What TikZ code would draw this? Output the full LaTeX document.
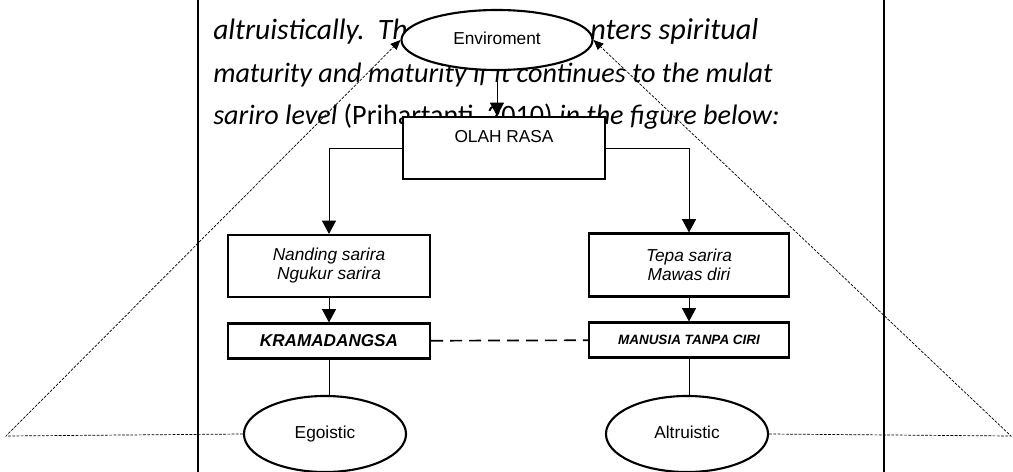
\documentclass[tikz,border=0pt]{standalone}
\usepackage{fontspec}
\setmainfont{Liberation Sans}
\newfontfamily\bodyfont{Carlito}
\newcommand\diagsize{\fontsize{12.3}{13.5}\selectfont}
\usetikzlibrary{arrows.meta, positioning, shapes.geometric}

\begin{document}
\begin{tikzpicture}[
    x=0.025cm, y=-0.025cm,
    font=\diagsize,
    box/.style={draw, line width=1.5pt, fill=white, inner sep=0pt, align=center},
    oval/.style={draw, ellipse, line width=1.5pt, fill=white, inner sep=0pt, text height=1.6ex, text depth=0.3ex},
    edge/.style={line width=0.7pt, -{Triangle[length=9.5pt, width=10pt]}},
    plain/.style={line width=0.7pt},
    dotline/.style={line width=0.5pt, dash pattern=on 2pt off 1pt, -{Triangle[length=7pt, width=6pt]}},
    gap/.style={line width=1.2pt, dash pattern=on 8.5pt off 5pt},
    pageline/.style={line width=1.4pt},
    bgtext/.style={font=\bodyfont\itshape\fontsize{20}{24}\selectfont, anchor=base west, inner sep=0pt},
]
\useasboundingbox (0,0) rectangle (1013,472);

% Page text behind the figure
\node[bgtext, font=\bodyfont\itshape\fontsize{21}{24}\selectfont] (t1a) at (213,40) {altruistically.\hspace{3pt} Th};
\node[bgtext, font=\bodyfont\itshape\fontsize{21.5}{24}\selectfont] (t1b) at (590,40) {nters spiritual};
\node[bgtext] (t2) at (213,83) {maturity and maturity if it continues to the mulat};
\node[bgtext] (t3) at (213,125) {sariro level \upshape(Prihartanti, 2010) \itshape in the figure below:};

% Page frame
\draw[pageline] (198,0) -- (198,472);
\draw[pageline] (884,0) -- (884,472);

% Top
\node[oval, minimum width=4.775cm, minimum height=1.5cm] (env) at (497,40) {Enviroment};
\node[box, minimum width=5.05cm, minimum height=1.55cm,
      label={[anchor=center, yshift=-0.525cm, font=\diagsize]north:OLAH RASA}] (olah) at (504,148) {};

% Middle
\node[box, minimum width=5.05cm, minimum height=1.55cm, font=\diagsize\itshape] (nand) at (329,266) {Nanding sarira\\Ngukur sarira};
\node[box, minimum width=5cm, minimum height=1.575cm, font=\diagsize\itshape] (tepa) at (689,265) {Tepa sarira\\Mawas diri};
\node[box, minimum width=5.05cm, minimum height=0.875cm, font=\bfseries\itshape\fontsize{12.2}{13}\selectfont] (kram) at (329,341) {KRAMADANGSA};
\node[box, minimum width=5cm, minimum height=0.875cm, font=\bfseries\itshape\fontsize{9.6}{11}\selectfont] (manu) at (689,340) {MANUSIA TANPA CIRI};

% Bottom
\node[oval, minimum width=4.05cm, minimum height=1.9cm] (ego) at (325,434) {Egoistic};
\node[oval, minimum width=4.05cm, minimum height=1.9cm] (alt) at (687,434) {Altruistic};

% Edges
\draw[edge] (env.south) -- (env.south |- olah.north);
\draw[edge] (olah.west) -| (nand.north);
\draw[edge] (olah.east) -| (tepa.north);
\draw[edge] (nand) -- (kram);
\draw[edge] (tepa) -- (manu);
\draw[gap] (kram) -- (manu);
\draw[plain] (kram.south) -- (kram.south |- ego.north);
\draw[plain] (manu.south) -- (manu.south |- alt.north);

% Feedback lines
\coordinate (lc) at (6,436);
\coordinate (rc) at (1011,436);
\draw[dotline] (ego.west) -- (lc) -- (env.west);
\draw[dotline] (alt.east) -- (rc) -- (env.east);

\end{tikzpicture}
\end{document}
